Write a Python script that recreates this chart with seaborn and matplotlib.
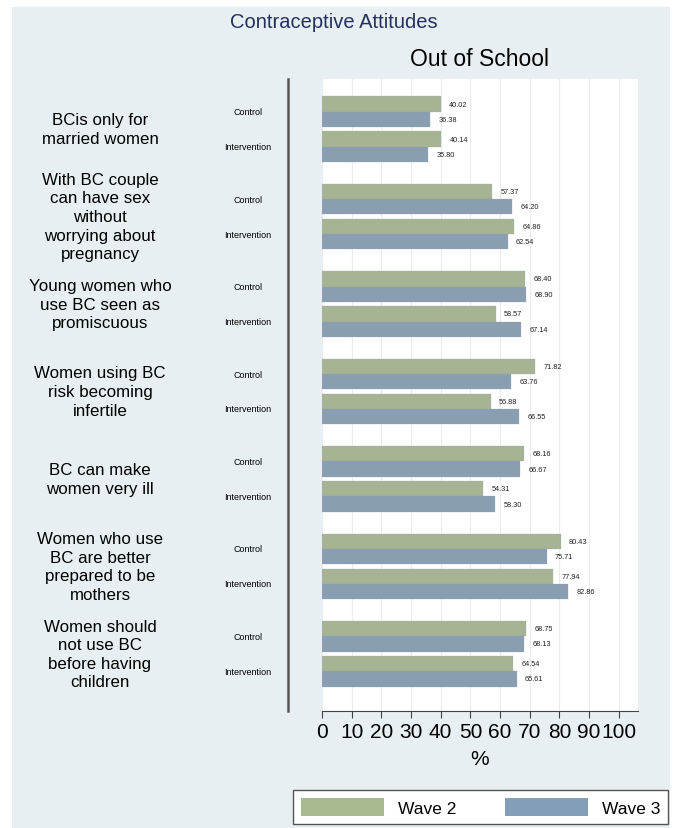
import numpy as np
import pandas as pd
import seaborn as sns
import matplotlib.pyplot as plt
from matplotlib.patches import Patch, Rectangle
from matplotlib.transforms import blended_transform_factory

groups = ['BCis only for\nmarried women',
          'With BC couple\ncan have sex\nwithout\nworrying about\npregnancy',
          'Young women who\nuse BC seen as\npromiscuous',
          'Women using BC\nrisk becoming\ninfertile',
          'BC can make\nwomen very ill',
          'Women who use\nBC are better\nprepared to be\nmothers',
          'Women should\nnot use BC\nbefore having\nchildren']
arms = ['Control', 'Intervention']
waves = ['Wave 2', 'Wave 3']

control_w2 = [40.02, 57.37, 68.40, 71.82, 68.16, 80.43, 68.75]
control_w3 = [36.38, 64.20, 68.90, 63.76, 66.67, 75.71, 68.13]
interv_w2 = [40.14, 64.86, 58.57, 56.88, 54.31, 77.94, 64.54]
interv_w3 = [35.80, 62.54, 67.14, 66.55, 58.30, 82.86, 65.61]

green = '#a7b98f'
blue = '#839eb9'
bg = '#e8eff2'

# long table, numeric row position so the groups get a bigger gap than the arms
gap = 2.5
rows = []
for g in range(len(groups)):
    for a, (w2, w3) in enumerate([(control_w2, control_w3), (interv_w2, interv_w3)]):
        rows.append({'pos': g * gap + a, 'group': g, 'arm': arms[a], 'wave': 'Wave 2', 'value': w2[g]})
        rows.append({'pos': g * gap + a, 'group': g, 'arm': arms[a], 'wave': 'Wave 3', 'value': w3[g]})
df = pd.DataFrame(rows)

plt.rcParams['font.family'] = ['Liberation Sans', 'DejaVu Sans']
fig = plt.figure(figsize=(6.8, 8.29), dpi=100, facecolor='white')
fig.patches.append(Rectangle((12 / 680, 0), 658 / 680, 821 / 829, transform=fig.transFigure,
                             facecolor=bg, edgecolor='none', zorder=-10))

W, H = 680, 829
ax = fig.add_axes([322 / W, (H - 712) / H, 316 / W, (712 - 80) / H])
ax.set_facecolor('white')

sns.barplot(data=df, x='value', y='pos', hue='wave', orient='h', native_scale=True,
            palette=[green, blue], width=0.86, legend=False, ax=ax,
            edgecolor='#9aa8b0', linewidth=0.2, errorbar=None)
for c in ax.containers:
    ax.bar_label(c, fmt='%.2f', fontsize=5.3, padding=6, color='#222222')

ax.set_xlim(0, 106.5)
ax.set_ylim(16 + 1.13, -0.93)
ax.set_xticks(range(0, 101, 10))
ax.tick_params(axis='x', labelsize=15, length=5, width=0.8, color='#444444', pad=3)
ax.set_yticks([])
ax.set_ylabel('')
ax.set_xlabel('%', fontsize=15, labelpad=6)
ax.grid(axis='x', color='#ececec', linewidth=0.8)
ax.set_axisbelow(True)

for s in ['top', 'right']:
    ax.spines[s].set_visible(False)
ax.spines['left'].set_position(('outward', 24.5))
ax.spines['left'].set_color('#555555')
ax.spines['left'].set_linewidth(1.8)
ax.spines['bottom'].set_color('#444444')
ax.spines['bottom'].set_linewidth(0.8)

tr = blended_transform_factory(ax.transAxes, ax.transData)
for g, name in enumerate(groups):
    ax.text((100 - 322) / 316, g * gap + 0.5, name, transform=tr, ha='center', va='center',
            fontsize=12.2, linespacing=1.3, clip_on=False)
    for a, arm in enumerate(arms):
        ax.text((248 - 322) / 316, g * gap + a, arm, transform=tr, ha='center', va='center',
                fontsize=6.5, clip_on=False)

ax.set_title('Out of School', fontsize=16.5, pad=10)
fig.text(334 / W, 1 - 23 / H, 'Contraceptive Attitudes', ha='center', va='center',
         fontsize=14.5, color='#24315e')

handles = [Patch(facecolor=green, edgecolor='none'), Patch(facecolor=blue, edgecolor='none')]
fig.legend(handles, waves, ncol=2, loc='lower left', mode='expand',
           bbox_to_anchor=(293 / W, (H - 825) / H, 375 / W, 38 / H),
           fontsize=12.5, handlelength=4.8, handleheight=1.27, handletextpad=0.8,
           borderpad=0.45, borderaxespad=0, frameon=True, fancybox=False, edgecolor='#555555',
           facecolor='white', framealpha=1)

fig.savefig('out.png', dpi=100, facecolor=fig.get_facecolor())
